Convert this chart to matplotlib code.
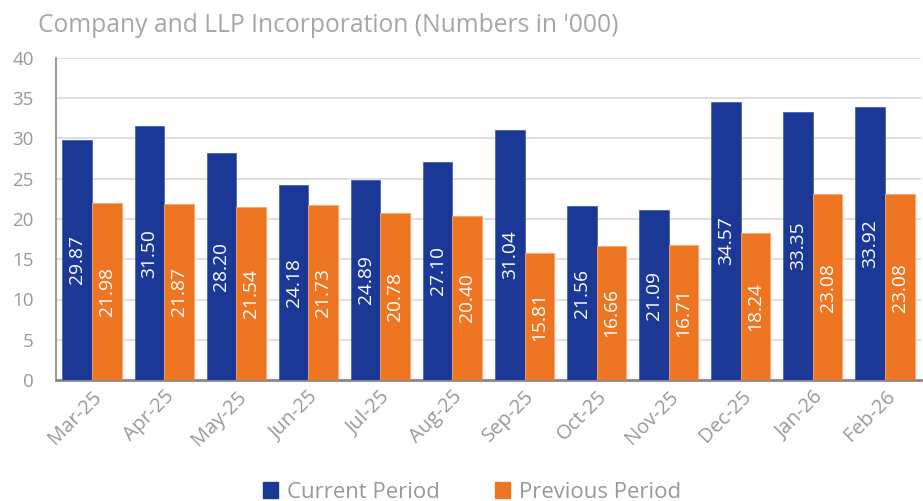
import matplotlib
matplotlib.use("Agg")
import matplotlib.pyplot as plt
import numpy as np
from matplotlib.patches import Patch

plt.rcParams['font.family'] = ['Open Sans', 'DejaVu Sans']

months = ["Mar-25", "Apr-25", "May-25", "Jun-25", "Jul-25", "Aug-25",
          "Sep-25", "Oct-25", "Nov-25", "Dec-25", "Jan-26", "Feb-26"]
current = [29.87, 31.50, 28.20, 24.18, 24.89, 27.10, 31.04, 21.56, 21.09, 34.57, 33.35, 33.92]
previous = [21.98, 21.87, 21.54, 21.73, 20.78, 20.40, 15.81, 16.66, 16.71, 18.24, 23.08, 23.08]
yticks = [0, 5, 10, 15, 20, 25, 30, 35, 40]
title = "Company and LLP Incorporation (Numbers in '000)"

BLUE = "#1c3896"
ORANGE = "#ee7623"
GRAY = "#999999"

W, H = 923, 501
fig = plt.figure(figsize=(W/100, H/100), dpi=100)
ax = fig.add_axes([56/W, 1-380/H, (921-56)/W, (380-58)/H])

x = np.arange(len(months))
bw = 0.41
b1 = ax.bar(x - bw/2, current, bw, color=BLUE, edgecolor="#4a63b0", linewidth=0.6, zorder=3)
b2 = ax.bar(x + bw/2, previous, bw, color=ORANGE, edgecolor="#f5a46a", linewidth=0.6, zorder=3)

for bars, vals in ((b1, current), (b2, previous)):
    for r, v in zip(bars, vals):
        ax.text(r.get_x() + r.get_width()/2, v/2, f"{v:.2f}", rotation=90,
                ha="center", va="center", color="white", fontsize=13.8, zorder=4)

ax.set_xlim(-0.5, len(months) - 0.5)
ax.set_ylim(0, 40)
ax.set_yticks(yticks)
ax.set_yticklabels([str(t) for t in yticks])
ax.yaxis.grid(True, color="#d9d9d9", linewidth=1.2, zorder=0)
ax.set_axisbelow(True)
ax.tick_params(axis="y", length=0, pad=16, labelsize=13.5, labelcolor=GRAY)
ax.tick_params(axis="x", length=0, pad=5, labelsize=14.5, labelcolor=GRAY)
ax.set_xticks(x)
ax.set_xticklabels(months, rotation=45, ha="right", rotation_mode="anchor")
for s in ("top", "right"):
    ax.spines[s].set_visible(False)
ax.spines["left"].set_color("#888888")
ax.spines["left"].set_linewidth(1.2)
ax.spines["bottom"].set_color("#888888")
ax.spines["bottom"].set_linewidth(2)

fig.text(38/W, 1-26/H, title, fontsize=17.7, color="#a6a6a6", ha="left", va="center")

handles = [Patch(color=BLUE, label="Current Period"), Patch(color=ORANGE, label="Previous Period")]
fig.legend(handles=handles, loc="center", bbox_to_anchor=(472/W, 1-492/H), ncol=2, frameon=False,
           fontsize=15.9, labelcolor=GRAY, handlelength=0.7, handleheight=0.7, handletextpad=0.4,
           columnspacing=2.5)

fig.savefig("out.png", dpi=100)
